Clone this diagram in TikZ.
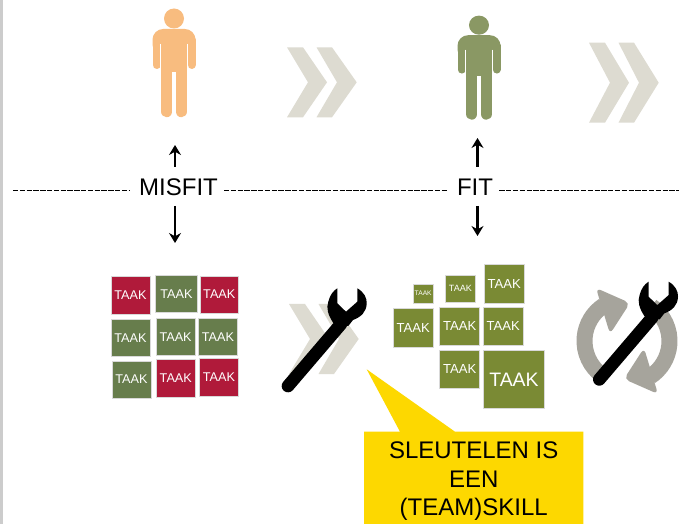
\documentclass[tikz,border=0pt]{standalone}
\usepackage{fontspec}
\setmainfont{Liberation Sans}
\usetikzlibrary{arrows.meta}
\definecolor{taakred}{RGB}{176,26,58}
\definecolor{taakgreen}{RGB}{103,125,76}
\definecolor{taakolive}{RGB}{122,138,52}
\definecolor{manorange}{RGB}{248,188,127}
\definecolor{mangreen}{RGB}{138,152,100}
\definecolor{chevgrey}{RGB}{221,219,209}
\definecolor{cyclegrey}{RGB}{166,164,156}
\definecolor{notegold}{RGB}{253,216,0}
\tikzset{
  taak/.style={draw=white!85!black,line width=0.5pt,text=white,inner sep=0pt,anchor=center},
  pijl/.style={-{Stealth[length=7.5pt,width=9pt,inset=2.5pt]},line width=1.6pt},
  stippel/.style={dash pattern=on 4pt off 1.1pt,line width=0.6pt},
  kop/.style={font=\fontsize{18}{20}\selectfont,inner sep=0pt},
}
% person: x, y shift, yscale, colour
\newcommand{\person}[4]{
  \begin{scope}[shift={(#1,#2)},yscale=#3]
    \fill[#4] (0,18.5) circle (10);
    \fill[#4,rounded corners=8] (-21.5,29) rectangle (21.5,55);
    \fill[#4] (-13,40) rectangle (13,72);
    \draw[#4,line width=6pt,line cap=round] (-17.5,40) -- (-17.5,65);
    \draw[#4,line width=6pt,line cap=round] (17.5,40) -- (17.5,65);
    \draw[#4,line width=8.6pt,line cap=round] (-7.25,70) -- (-7.25,111.5);
    \draw[#4,line width=8.6pt,line cap=round] (7.25,70) -- (7.25,111.5);
    \draw[white,line width=0.8pt] (-13.5,44) -- (-13.5,72);
    \draw[white,line width=0.8pt] (13.5,44) -- (13.5,72);
  \end{scope}}
% chevrons: left edge x, top y, yscale
\newcommand{\chevrons}[3]{
  \begin{scope}[shift={(#1,#2)},yscale=#3]
    \fill[chevgrey] (0,0) -- (16,0) -- (40,35) -- (16,70) -- (0,70) -- (21,35) -- cycle;
    \fill[chevgrey] (29.5,0) -- (45,0) -- (69.7,35) -- (45,70) -- (29.5,70) -- (50,35) -- cycle;
  \end{scope}}
% wrench: head centre x, y
\newcommand{\wrench}[2]{
  \begin{scope}[shift={(#1,#2)}]
    \draw[black,line width=9.5pt,line cap=round] (-59,83) -- (-6,21);
    \fill[black] (-9.7,-14.7) -- (-9.7,0.3) -- (-1,8.7) -- (10.3,-1.3) -- (10.3,-14.7)
      .. controls (17,-11) and (20,-5) .. (19.7,0.3)
      .. controls (19.5,9) and (14,14) .. (6,17) -- (1.3,23) -- (-13.7,20)
      .. controls (-19,12) and (-21,5) .. (-18.7,-1.3)
      .. controls (-17,-8) and (-14,-12) .. (-9.7,-14.7) -- cycle;
  \end{scope}}
\begin{document}
\begin{tikzpicture}[x=0.75pt,y=0.75pt,yscale=-1,xscale=1]
\useasboundingbox (0,0) rectangle (679,524);
\fill[white] (0,0) rectangle (679,524);
\fill[black!20] (0,0) rectangle (2.5,524);

% people and chevrons
\person{174}{0}{1}{manorange}
\person{479}{7.5}{0.955}{mangreen}
\chevrons{287}{47.3}{1}
\chevrons{589}{42.7}{1.143}

% dashed lines and labels
\node[kop] (misfit) at (178.5,187.5) {MISFIT};
\node[kop] (fit) at (475,187.5) {FIT};
\coordinate (lijn1a) at (13,190);
\coordinate (lijn1b) at (129,190);
\coordinate (lijn2a) at (224,190);
\coordinate (lijn2b) at (446.7,190);
\coordinate (lijn3a) at (499.3,190);
\coordinate (lijn3b) at (679,190);
\draw[stippel] (lijn1a) -- (lijn1b);
\draw[stippel] (lijn2a) -- (lijn2b);
\draw[stippel] (lijn3a) -- (lijn3b);

% arrows
\coordinate (mtop) at (175,145);
\coordinate (mboven) at (175,167);
\coordinate (monder) at (175,206);
\coordinate (mbot) at (175,243);
\coordinate (ftop) at (477.5,138);
\coordinate (fboven) at (477.5,167);
\coordinate (fonder) at (477.5,206);
\coordinate (fbot) at (477.5,236);
\draw[pijl] (mboven) -- (mtop);
\draw[pijl] (monder) -- (mbot);
\draw[pijl] (fboven) -- (ftop);
\draw[pijl] (fonder) -- (fbot);

% misfit tasks
\foreach \cx/\cy/\w/\h/\col in {130.5/295.5/39/37.6/taakred,176.5/294.2/41.6/37/taakgreen,219.3/294.5/38.7/37/taakred,
  130.5/338/39/37.4/taakgreen,175.6/337/38.7/37.4/taakgreen,218/336.8/38.6/37.7/taakgreen,
  131.5/379.6/39/37.3/taakgreen,175.8/378.3/39/37.3/taakred,219/377.3/39.4/38/taakred}
  \node[taak,fill=\col,minimum width=\w*0.75pt,minimum height=\h*0.75pt,font=\fontsize{9.5}{10}\selectfont] at (\cx,\cy) {TAAK};

% fit tasks
\foreach \cx/\cy/\w/\h/\fs in {423.2/293.7/20/19/5,460.5/288.8/30/27/6.8,504.3/283.7/40/38.7/9.8,
  413.3/328/40/38.6/9.8,459.7/326.5/40/38.4/9.8,503.3/326.5/40/38.4/9.8,459.7/369.5/40/38.4/9.8,
  514/379.5/60.6/58.4/14.6}
  \node[taak,fill=taakolive,minimum width=\w*0.75pt,minimum height=\h*0.75pt,font=\fontsize{\fs}{10}\selectfont] at (\cx,\cy) {TAAK};

% wrench on chevrons
\chevrons{289}{304}{1}
\wrench{347}{303}

% cycle behind wrench
\draw[cyclegrey,line width=12pt] (627,341) ++(125:42.5) arc[start angle=125,end angle=237,radius=42.5];
\draw[cyclegrey,line width=12pt] (627,341) ++(-55:42.5) arc[start angle=-55,end angle=57,radius=42.5];
\fill[cyclegrey,rounded corners=4] (596,288) -- (630,303) -- (610,334) -- cycle;
\fill[cyclegrey,rounded corners=4] (658,394) -- (624,379) -- (644,348) -- cycle;
\wrench{658.3}{296.4}

% note
\fill[notegold] (366.7,369.3) -- (455,431.7) -- (583.3,431.7) -- (583.3,524) -- (364,524) -- (364,431.7) -- (400,431.7) -- cycle;
\node[font=\fontsize{18}{21.4}\selectfont,align=center,inner sep=0pt] (note) at (473.7,481.5) {SLEUTELEN IS\\EEN\\(TEAM)SKILL};
\end{tikzpicture}
\end{document}
